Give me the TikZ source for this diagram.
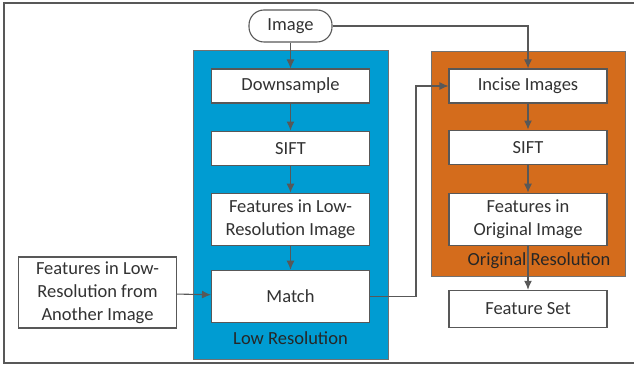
\documentclass[tikz,border=0pt]{standalone}
\usepackage{fontspec}
\setmainfont{Carlito}
\usetikzlibrary{arrows.meta,positioning,calc,backgrounds}
\definecolor{flowedge}{RGB}{88,88,88}
\definecolor{flowink}{RGB}{50,50,50}
\definecolor{flowlow}{RGB}{0,156,210}
\definecolor{floworig}{RGB}{212,108,28}
\tikzset{
  flowbox/.style={
    draw=flowedge, line width=1.1pt, fill=white, align=center,
    text=flowink, inner sep=2pt, minimum width=158pt, minimum height=34pt,
    font=\fontsize{18.5}{23}\selectfont
  },
  tallbox/.style={flowbox, minimum height=52pt},
  pill/.style={flowbox, rounded corners=15pt, minimum width=83pt, minimum height=32pt},
  grp/.style={draw=flowedge!85, line width=0.9pt},
  grplbl/.style={font=\fontsize{18.5}{23}\selectfont, text=black!85, inner sep=1pt},
  arr/.style={-{Latex[length=9pt,width=8pt]}, draw=flowedge, line width=1.1pt},
  frame/.style={draw=flowedge, line width=1.4pt}
}
\begin{document}
\begin{tikzpicture}[x=1pt, y=1pt]
  \useasboundingbox (0,0) rectangle (634,-371);
  \draw[frame] (634,-3) -- (4,-3) -- (4,-363) -- (634,-363);

  % input
  \node[pill] (img) at (290.5,-26) {Image};

  % low resolution branch
  \node[flowbox] (down) at (290.5,-86) {Downsample};
  \node[flowbox, below=27pt of down] (sift) {SIFT};
  \node[tallbox, below=27pt of sift] (featlow) {Features in Low-\\Resolution Image};
  \node[tallbox, below=24pt of featlow] (match) {Match};
  \node[grplbl] (lowlbl) at (290.5,-338) {Low Resolution};
  \node[flowbox, minimum height=71pt] (other) at (97.5,-292.5)
    {Features in Low-\\Resolution from\\Another Image};

  % original resolution branch
  \node[flowbox] (incise) at (528,-86) {Incise Images};
  \node[flowbox, below=26pt of incise] (sift2) {SIFT};
  \node[tallbox, below=28pt of sift2] (featorig) {Features in\\Original Image};
  \node[flowbox, minimum height=37pt, below=44pt of featorig] (featset) {Feature Set};
  \node[grplbl] (origlbl) at (539,-261) {Original Resolution};

  \begin{scope}[on background layer]
    \draw[grp, fill=flowlow] ($(down.north west)+(-17.5,17.5)$) rectangle ($(match.south east)+(18.5,-37)$);
    \draw[grp, fill=floworig] ($(incise.north west)+(-17,17)$) rectangle ($(featorig.south east)+(18,-31)$);
  \end{scope}

  \coordinate (bend) at (416,-86);
  \draw[arr] (img) -- (down);
  \draw[arr] (down) -- (sift);
  \draw[arr] (sift) -- (featlow);
  \draw[arr] (featlow) -- (match);
  \draw[arr] (other) -- (match);
  \draw[arr] (img.east) -| (incise.north);
  \draw[arr] (match.east) -| (bend) -- (incise.west);
  \draw[arr] (incise) -- (sift2);
  \draw[arr] (sift2) -- (featorig);
  \draw[arr] (featorig) -- (featset);
\end{tikzpicture}
\end{document}
